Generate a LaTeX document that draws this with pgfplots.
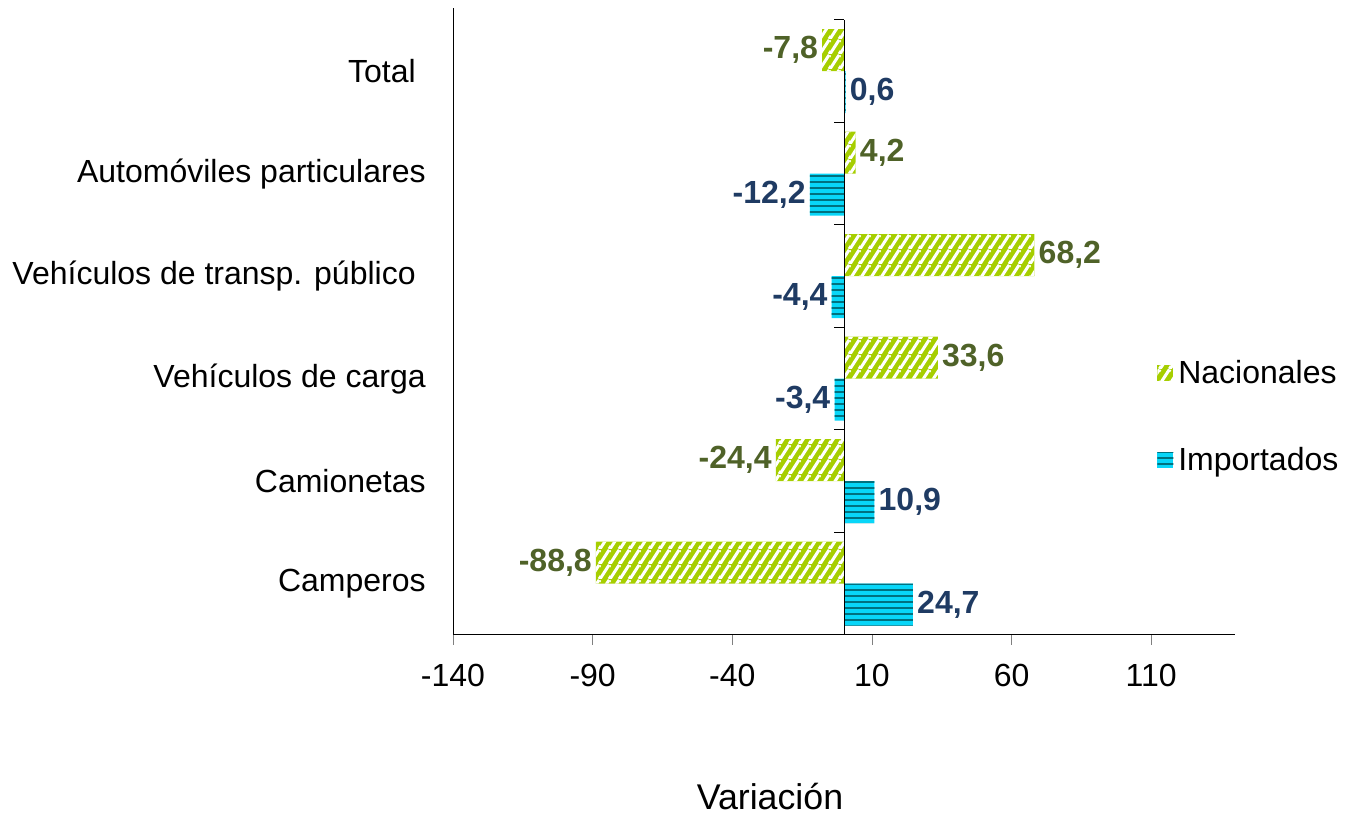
\documentclass[border=0pt]{standalone}
\usepackage{pgfplots}
\pgfplotsset{compat=1.18}
\usetikzlibrary{patterns}
\usepackage{fontspec}
\setmainfont{Liberation Sans}

\definecolor{nacFill}{HTML}{A6CE00}
\definecolor{impFill}{HTML}{08D6F8}
\definecolor{impLine}{HTML}{00717F}
\definecolor{nacText}{HTML}{4F6228}
\definecolor{impText}{HTML}{1F3B63}

% steep diagonal stripes (about 56 degrees)
\pgfdeclarepatternformonly{nacstripes}{\pgfqpoint{0pt}{0pt}}{\pgfqpoint{4pt}{6pt}}{\pgfqpoint{4pt}{6pt}}{
  \pgfsetlinewidth{1.3pt}
  \pgfpathmoveto{\pgfqpoint{-4pt}{0pt}}\pgfpathlineto{\pgfqpoint{0pt}{6pt}}
  \pgfpathmoveto{\pgfqpoint{0pt}{0pt}}\pgfpathlineto{\pgfqpoint{4pt}{6pt}}
  \pgfpathmoveto{\pgfqpoint{4pt}{0pt}}\pgfpathlineto{\pgfqpoint{8pt}{6pt}}
  \pgfusepath{stroke}
}
% horizontal stripes
\pgfdeclarepatternformonly{impstripes}{\pgfqpoint{0pt}{0pt}}{\pgfqpoint{12pt}{2.4pt}}{\pgfqpoint{12pt}{2.4pt}}{
  \pgfpathrectangle{\pgfqpoint{-1pt}{0pt}}{\pgfqpoint{14pt}{0.8pt}}
  \pgfusepath{fill}
}

\begin{document}
\begin{tikzpicture}
\begin{axis}[
 scale only axis,
 width=312.8pt, height=246pt,
 xbar, bar width=16.8pt,
 xmin=-140, xmax=140,
 ymin=-0.5, ymax=5.5,
 axis lines*=left,
 xtick={-140,-90,-40,10,60,110},
 tick align=outside,
 major tick length=4pt,
 ytick={0,1,2,3,4,5},
 yticklabels={Camperos,Camionetas,Vehículos de carga,Vehículos de transp. público\rule{4pt}{0pt},Automóviles particulares,Total\rule{4pt}{0pt}},
 ytick style={draw=none},
 yticklabel style={xshift=-3.4pt},
 xticklabel style={yshift=-4pt},
 tick label style={font=\fontsize{12.8}{15}\selectfont},
 /pgf/number format/assume math mode=true,
 nodes near coords={\pgfmathprintnumber[fixed,fixed zerofill,precision=1,use comma]{\pgfplotspointmeta}},
 nodes near coords align=horizontal,
 every node near coord/.append style={font=\fontsize{12.8}{15}\selectfont\bfseries, inner sep=1.5pt},
 legend style={draw=none, fill=none, at={(0.900,0.3545)}, anchor=west, inner sep=0pt,
   row sep=20pt, font=\fontsize{12.8}{15}\selectfont},
 legend cell align=left,
 legend image code/.code={\path[#1] (0pt,-3.2pt) rectangle (6.4pt,3.2pt);},
 clip=false,
]

\addplot[bar shift=8.4pt, draw=none, fill=nacFill,
  postaction={pattern=nacstripes, pattern color=white},
  nodes near coords style={text=nacText}]
 coordinates {(-88.8,0) (-24.4,1) (33.6,2) (68.2,3) (4.2,4) (-7.8,5)};
\addlegendentry{Nacionales}

\addplot[bar shift=-8.4pt, draw=none, fill=impFill,
  postaction={pattern=impstripes, pattern color=impLine},
  nodes near coords style={text=impText}]
 coordinates {(24.7,0) (10.9,1) (-3.4,2) (-4.4,3) (-12.2,4) (0.6,5)};
\addlegendentry{Importados}

% zero line with category ticks
\draw[black] (axis cs:0,-0.5) -- (axis cs:0,5.5);
\pgfplotsinvokeforeach{-0.5,0.5,1.5,2.5,3.5,4.5,5.5}{
  \draw[black] (axis cs:0,#1) -- ++(-4pt,0pt);
}
\draw[black] (rel axis cs:0,1) -- (rel axis cs:0,1.0195);

\node[font=\fontsize{14.3}{16}\selectfont] at (rel axis cs:0.4054,-0.2634) {Variación};

\path (rel axis cs:-0.5793,-0.2878) rectangle (rel axis cs:1.1445,1.0325);
\end{axis}
\end{tikzpicture}
\end{document}
